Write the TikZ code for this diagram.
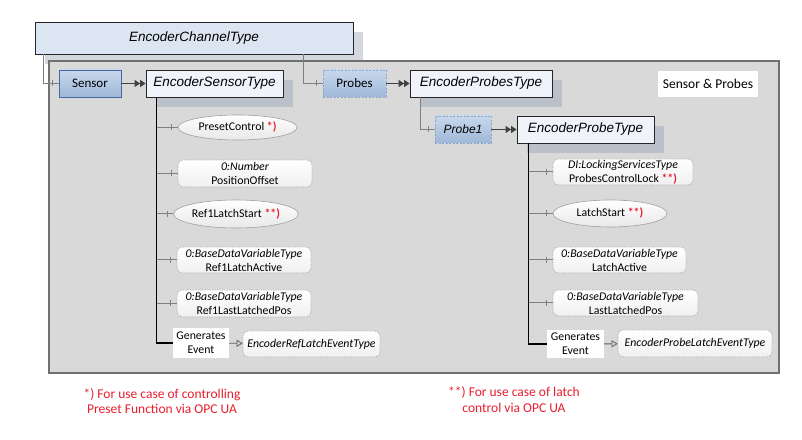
\documentclass[tikz,border=0pt]{standalone}
\usepackage{fontspec}
\setmainfont{Carlito}
\newfontfamily\typefont{Liberation Sans}
\usepackage{xcolor}
\usepackage{tikz}
\usetikzlibrary{arrows.meta,positioning,shapes.geometric,shadows,decorations.markings}
\definecolor{frameGray}{RGB}{217,217,217}
\definecolor{frameLine}{RGB}{112,112,112}
\definecolor{chanBlue}{RGB}{220,230,242}
\definecolor{typeBlue}{RGB}{240,244,250}
\definecolor{shadowBlue}{RGB}{186,193,203}
\definecolor{shadowLight}{RGB}{212,216,222}
\definecolor{refTop}{RGB}{200,216,236}
\definecolor{refBottom}{RGB}{158,184,216}
\definecolor{refLine}{RGB}{70,106,160}
\definecolor{refDash}{RGB}{140,165,200}
\definecolor{propLine}{RGB}{160,160,160}
\definecolor{noteRed}{RGB}{232,30,45}
\definecolor{linkGray}{RGB}{96,96,96}
\newcommand{\noteMark}[1]{\textcolor{noteRed}{\textbf{#1}}}

\begin{document}
\begin{tikzpicture}[x=1bp, y=-1bp,
  every node/.style={font=\fontsize{11.8bp}{14bp}\selectfont, inner sep=0pt, align=center},
  typebox/.style={draw=black!85, line width=0.9bp, fill=typeBlue, font=\typefont\itshape\fontsize{13.5bp}{16bp}\selectfont,
    drop shadow={shadow xshift=10bp, shadow yshift=-10bp, fill=shadowBlue, opacity=1}},
  refbox/.style={draw=refLine, line width=0.8bp, top color=refTop, bottom color=refBottom, font=\fontsize{13bp}{16bp}\selectfont},
  dashbox/.style={refbox, draw=refDash, dash pattern=on 2bp off 1.5bp},
  propbox/.style={draw=propLine, densely dotted, line width=0.7bp, rounded corners=5bp, top color=white, bottom color=black!6},
  methbox/.style={ellipse, draw=propLine, line width=0.6bp, top color=white, bottom color=black!9},
  plainbox/.style={fill=white},
  notetext/.style={text=noteRed, font=\fontsize{13.5bp}{15.5bp}\selectfont},
  proptick/.style={postaction={decorate}, decoration={markings, mark=at position -6bp with {\draw[line width=0.7bp] (0,-3) -- (0,3);}}},
  reflink/.style={draw=linkGray!80, line width=1bp, proptick},
  typelink/.style={draw=black!75, line width=1bp, -{Triangle[length=5.5bp,width=7bp]Triangle[length=5.5bp,width=7bp]}},
  buslink/.style={draw=black, line width=1.5bp},
  genlink/.style={draw=linkGray, line width=0.8bp, -{Triangle[open, length=6bp, width=7bp]}}]
\useasboundingbox (0,0) rectangle (802,440);

% top object type
\node[typebox, fill=chanBlue, minimum width=318bp, minimum height=32bp,
  drop shadow={shadow xshift=10bp, shadow yshift=-10bp, fill=shadowLight, opacity=1}] (chan) at (194,38) {EncoderChannelType};

% frame
\draw[fill=frameGray, draw=frameLine, line width=1.5bp] (49,61) rectangle (779,373);
\node[plainbox, font=\fontsize{13.5bp}{16bp}\selectfont, minimum width=100bp, minimum height=26bp] (title) at (708,84) {Sensor \& Probes};

% sensor side
\node[refbox, minimum width=62bp, minimum height=27bp] (sensor) at (90,83.5) {Sensor};
\node[typebox, minimum width=137bp, minimum height=27bp] (sensorT) at (214.5,83.5) {EncoderSensorType};
\node[methbox, minimum width=119bp, minimum height=25bp] (preset) at (237.5,127.5) {PresetControl \noteMark{*)}};
\node[propbox, minimum width=134bp, minimum height=27bp] (offset) at (245,173.5) {\textit{0:Number}\\PositionOffset};
\node[methbox, minimum width=120bp, minimum height=28bp] (refStart) at (236,214) {Ref1LatchStart \noteMark{**)}};
\node[propbox, minimum width=134bp, minimum height=26bp] (refActive) at (244,260) {\textit{0:BaseDataVariableType}\\Ref1LatchActive};
\node[propbox, minimum width=134bp, minimum height=27bp] (refPos) at (244,303.5) {\textit{0:BaseDataVariableType}\\Ref1LastLatchedPos};
\node[plainbox, minimum width=56bp, minimum height=30bp] (sensorGen) at (201,343) {Generates\\Event};
\node[propbox, minimum width=137bp, minimum height=26bp] (sensorEvt) at (311.5,344) {\textit{EncoderRefLatchEventType}};

% probes side
\node[dashbox, minimum width=63bp, minimum height=27bp] (probes) at (354.5,83.5) {Probes};
\node[typebox, minimum width=142bp, minimum height=27bp] (probesT) at (481,83.5) {EncoderProbesType};
\node[dashbox, minimum width=56bp, minimum height=27bp, font=\typefont\itshape\fontsize{12bp}{14bp}\selectfont] (probe1) at (463,129.5) {Probe1};
\node[typebox, minimum width=137bp, minimum height=27bp] (probeT) at (585.5,129.5) {EncoderProbeType};
\node[propbox, minimum width=140bp, minimum height=26bp] (lock) at (623,172) {\textit{DI:LockingServicesType}\\ProbesControlLock \noteMark{**)}};
\node[methbox, minimum width=114bp, minimum height=27bp] (latchStart) at (610,213.5) {LatchStart \noteMark{**)}};
\node[propbox, minimum width=133bp, minimum height=26bp] (latchActive) at (619.5,260) {\textit{0:BaseDataVariableType}\\LatchActive};
\node[propbox, minimum width=145bp, minimum height=26bp] (latchPos) at (625.5,303) {\textit{0:BaseDataVariableType}\\LastLatchedPos};
\node[plainbox, minimum width=57bp, minimum height=28bp] (probeGen) at (575.5,344) {Generates\\Event};
\node[propbox, minimum width=154bp, minimum height=27bp] (probeEvt) at (695,343.5) {\textit{EncoderProbeLatchEventType}};

% notes
\node[notetext] (note1) at (162,401) {*) For use case of controlling\\Preset Function via OPC UA};
\node[notetext] (note2) at (514,399.5) {**) For use case of latch\\control via OPC UA};

% references
\draw[reflink] ([xshift=9bp]chan.south west) |- (sensor.west);
\draw[reflink] ([xshift=269bp]chan.south west) |- (probes.west);
\draw[typelink] (sensor) -- (sensorT);
\draw[typelink] (probes) -- (probesT);
\draw[reflink] ([xshift=11bp]probesT.south west) |- (probe1.west);
\draw[typelink] (probe1) -- (probeT);

\coordinate (sensorBus) at ([xshift=11bp]sensorT.south west);
\draw[buslink] (sensorBus) |- (sensorGen.west);
\foreach \child in {preset,offset,refStart,refActive,refPos}
  \draw[reflink] (\child.west -| sensorBus) -- (\child.west);
\draw[genlink] (sensorGen) -- (sensorEvt);

\coordinate (probeBus) at ([xshift=12bp]probeT.south west);
\draw[buslink] (probeBus) |- (probeGen.west);
\foreach \child in {lock,latchStart,latchActive,latchPos}
  \draw[reflink] (\child.west -| probeBus) -- (\child.west);
\draw[genlink] (probeGen) -- (probeEvt);
\end{tikzpicture}
\end{document}
